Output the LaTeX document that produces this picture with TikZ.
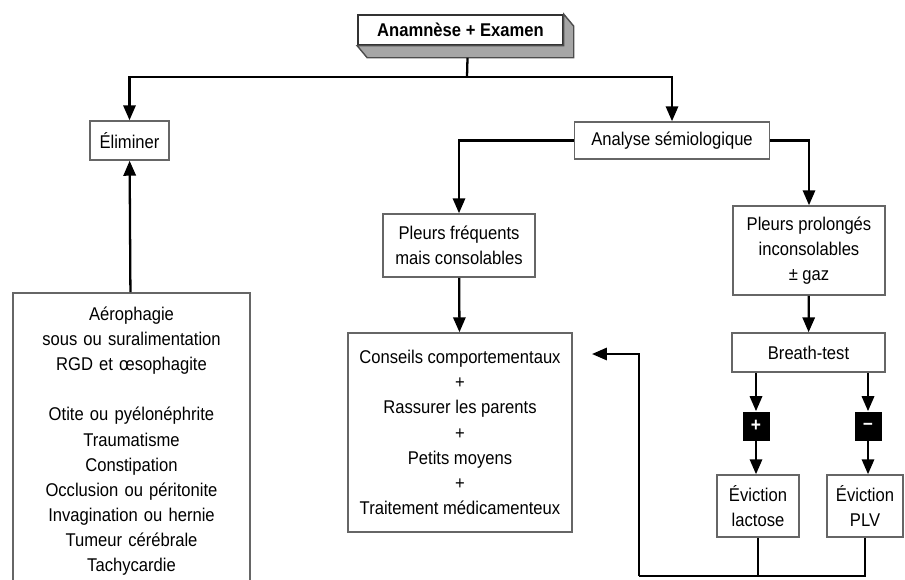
\documentclass[tikz,border=0pt]{standalone}
\usepackage{fontspec}
\setmainfont{Liberation Sans}[FakeStretch=0.9]
\usetikzlibrary{arrows.meta}

\begin{document}
\begin{tikzpicture}[x=0.02cm, y=-0.02cm,
    box/.style={rectangle, draw=black!60, line width=0.9pt, fill=white, align=center, inner sep=2pt, font=\fontsize{10.5}{14.3}\selectfont},
    arr/.style={-{Triangle[length=8.5pt, width=7pt]}, line width=1.3pt},
    lin/.style={line width=1.3pt},
    sign/.style={rectangle, fill=black, minimum width=0.54cm, minimum height=0.58cm, inner sep=0pt, text=white, font=\bfseries\fontsize{11}{11}\selectfont}]
    \useasboundingbox (0,0) rectangle (905,579);

    % Starting box, drawn with a bevel
    \node[box, draw=black!80, minimum width=4.1cm, minimum height=0.6cm, font=\bfseries\fontsize{10.5}{12}\selectfont] (exam) at (460.5,30) {Anamnèse + Examen};
    \filldraw[fill=black!35, draw=black!70, line width=0.8pt] (exam.north east) -- ++(10,12) -- ([shift={(10,12)}]exam.south east) -- ([shift={(10,12)}]exam.south west) -- (exam.south west) -- (exam.south east) -- cycle;

    % First split
    \node[box, minimum width=1.58cm, minimum height=0.78cm] (elim) at (129.5,140.5) {Éliminer};
    \node[box, minimum width=3.9cm, minimum height=0.74cm] (anal) at (672,140.5) {Analyse sémiologique};
    \coordinate (fork) at (467,77);
    \draw[lin] ([shift={(7,12)}]exam.south) -- (fork);
    \draw[arr] (fork) -| (elim);
    \draw[arr] (fork) -| (anal);

    % Causes to rule out
    \node[box, anchor=north, inner ysep=8pt, text width=4.6cm, minimum width=4.74cm] (causes) at (131.5,292) {Aérophagie\\ sous ou suralimentation\\ RGD et œsophagite\\[14.3pt] Otite ou pyélonéphrite\\ Traumatisme\\ Constipation\\ Occlusion ou péritonite\\ Invagination ou hernie\\ Tumeur cérébrale\\ Tachycardie\\ \rule{0pt}{1cm}};
    \draw[arr] (causes) -- (elim);

    % Two kinds of crying
    \node[box, minimum width=3.04cm, minimum height=1.26cm] (freq) at (459,245.5) {Pleurs fréquents\\ mais consolables};
    \node[box, minimum width=3.04cm, minimum height=1.78cm] (prol) at (809,250.5) {Pleurs prolongés\\ inconsolables\\ ± gaz};
    \draw[arr] (anal.west) -| (freq);
    \draw[arr] (anal.east) -| (prol);

    \node[box, minimum width=4.48cm, minimum height=3.98cm] (cons) at (460,432.5) {Conseils comportementaux\\ +\\ Rassurer les parents\\ +\\ Petits moyens\\ +\\ Traitement médicamenteux};
    \draw[arr] (freq) -- (cons);

    % Breath-test and its results
    \node[box, minimum width=3.06cm, minimum height=0.78cm] (breath) at (808.5,352.5) {Breath-test};
    \draw[arr] (prol) -- (breath);

    \node[sign] (pos) at (756,426) {+};
    \node[sign] (neg) at (868,426) {--};
    \draw[arr] (pos.north |- breath.south) -- (pos);
    \draw[arr] (neg.north |- breath.south) -- (neg);

    \node[box, minimum width=1.64cm, minimum height=1.24cm] (lact) at (758,506) {Éviction\\ lactose};
    \node[box, minimum width=1.52cm, minimum height=1.24cm] (plv) at (865,506) {Éviction\\ PLV};
    \draw[arr] (pos) -- (pos |- lact.north);
    \draw[arr] (neg) -- (neg |- plv.north);

    % Way back to the advice
    \coordinate (back) at (592,354);
    \coordinate (bend) at (639,576);
    \draw[lin] (plv.south) -- (plv.south |- bend) -- (bend);
    \draw[lin] (lact.south) -- (lact.south |- bend);
    \draw[arr] (bend) |- (back);
\end{tikzpicture}
\end{document}
